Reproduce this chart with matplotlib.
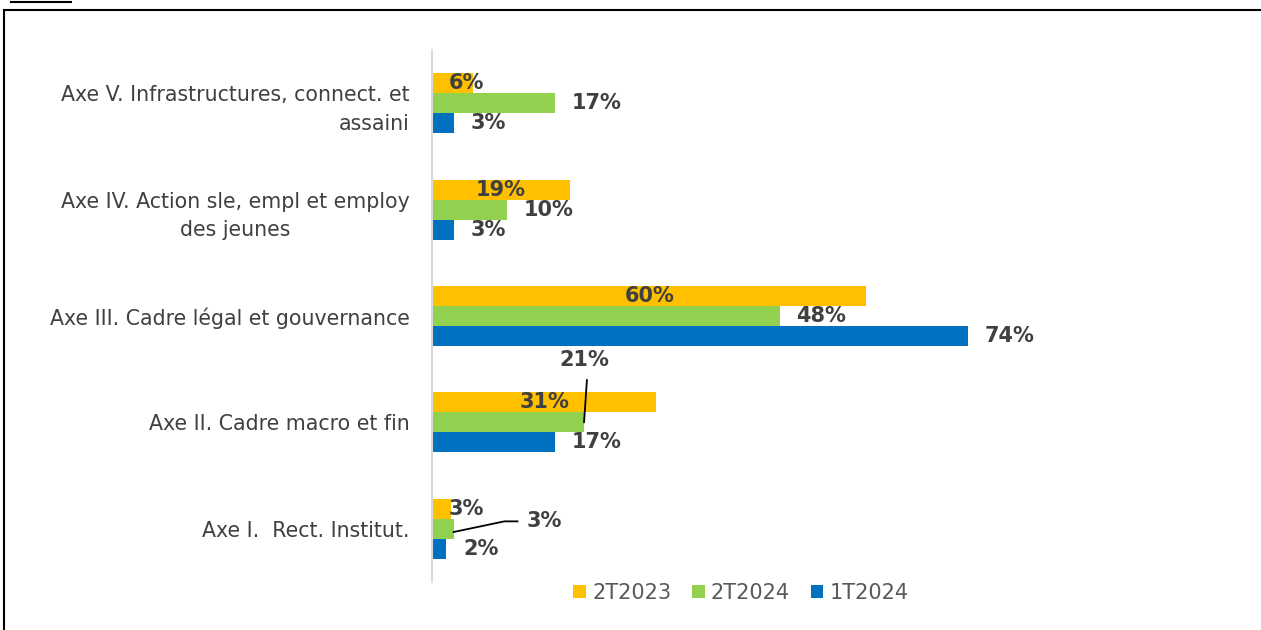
import matplotlib
matplotlib.use("Agg")
import matplotlib.pyplot as plt
from matplotlib.patches import Rectangle
from matplotlib.lines import Line2D

categories = ["Axe I.  Rect. Institut.",
              "Axe II. Cadre macro et fin",
              "Axe III. Cadre légal et gouvernance",
              "Axe IV. Action sle, empl et employ\ndes jeunes",
              "Axe V. Infrastructures, connect. et\nassaini"]
series_names = ["2T2023", "2T2024", "1T2024"]
v_2t2023 = [2.6, 31, 60, 19, 5.6]
v_2t2024 = [3, 21, 48, 10.4, 17]
v_1t2024 = [2, 17, 74, 3, 3]
colors = ["#FFC000", "#92D050", "#0070C0"]

FONT = ["DejaVu Sans"]
TXT = "#404040"

fig = plt.figure(figsize=(12.61, 6.30), dpi=100)
ax = fig.add_axes([432/1261, 1-582/630, 724/1261, 532/630])
ax.set_xlim(0, 100)
ax.set_ylim(-0.5, 4.5)

h = 0.188
offsets = [h, 0, -h]
all_vals = [v_2t2023, v_2t2024, v_1t2024]
ys = list(range(len(categories)))
for vals, off, c, name in zip(all_vals, offsets, colors, series_names):
    ax.barh([y + off for y in ys], vals, height=h, color=c, label=name)

# value labels
fs_val = 15
for i, y in enumerate(ys):
    v = v_2t2023[i]
    ax.text(max(v/2, 4.7), y + h, f"{round(v)}%", ha="center", va="center",
            fontsize=fs_val, fontweight="bold", color=TXT, family=FONT)
    v = v_1t2024[i]
    ax.annotate(f"{round(v)}%", (v, y - h), xytext=(12, 0), textcoords="offset points",
                ha="left", va="center", fontsize=fs_val, fontweight="bold", color=TXT, family=FONT)
    v = v_2t2024[i]
    if i == 1:
        ax.annotate(f"{round(v)}%", (v, y), xytext=(0, 45), textcoords="offset points",
                    ha="center", va="center", fontsize=fs_val, fontweight="bold", color=TXT, family=FONT)
        ax.annotate("", (v, y), xytext=(v + 0.4, y + 0.4),
                    arrowprops=dict(arrowstyle="-", color="black", lw=1.3, shrinkA=0, shrinkB=0))
    elif i == 0:
        ax.plot([v, 10, 11.8], [y - 0.03, y + 0.07, y + 0.07], color="black", lw=1.3)
        ax.text(13.1, y + 0.07, f"{round(v)}%", ha="left", va="center",
                fontsize=fs_val, fontweight="bold", color=TXT, family=FONT)
    else:
        ax.annotate(f"{round(v)}%", (v, y), xytext=(12, 0), textcoords="offset points",
                    ha="left", va="center", fontsize=fs_val, fontweight="bold", color=TXT, family=FONT)

ax.set_yticks(ys)
ax.set_yticklabels(categories, fontsize=14.8, color=TXT, family=FONT, linespacing=1.55)
for lab, ma in zip(ax.get_yticklabels(), ["right", "right", "right", "center", "right"]):
    lab.set_multialignment(ma)
ax.tick_params(axis="y", length=0, pad=16)
ax.set_xticks([])
for s in ["top", "right", "bottom"]:
    ax.spines[s].set_visible(False)
ax.spines["left"].set_color("#D9D9D9")
ax.spines["left"].set_linewidth(1.5)

leg = fig.legend(loc="center", bbox_to_anchor=(741/1261, 1-593/630), ncol=3, frameon=False,
                 prop={"family": FONT, "size": 15}, handlelength=0.6, handleheight=0.6,
                 handletextpad=0.3, columnspacing=1.0, labelcolor="#595959")

fig.add_artist(Rectangle((4/1261, -0.01), 1.2, (630-10)/630 + 0.01, transform=fig.transFigure,
                         fill=False, edgecolor="black", lw=1.5))
fig.add_artist(Line2D([11/1261, 71/1261], [1-2/630, 1-2/630], transform=fig.transFigure,
                      color="black", lw=1.5))

fig.savefig("out.png", dpi=100)
